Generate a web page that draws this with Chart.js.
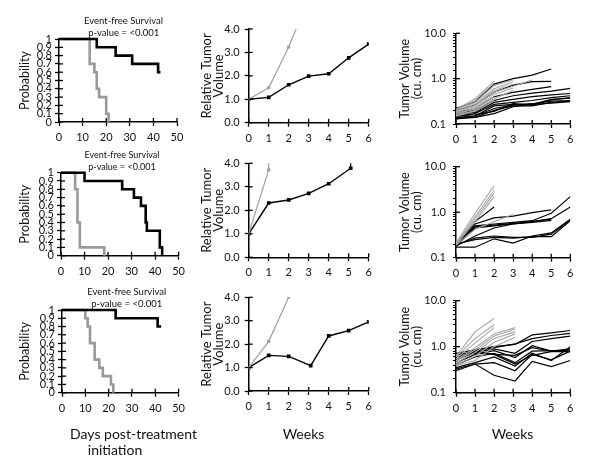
<!DOCTYPE html>
<html><head><meta charset="utf-8">
<script src="https://cdn.jsdelivr.net/npm/chart.js@4/dist/chart.umd.min.js"></script>
<style>
html,body{margin:0;padding:0;background:#fff;width:600px;height:471px;overflow:hidden;position:relative;font-family:Lato,"Open Sans",sans-serif;}
canvas{position:absolute;}
.t{position:absolute;white-space:nowrap;transform:translate(-50%,-50%);color:#111;line-height:1;}
</style></head><body>
<div id="wrap"></div>
<div class="t" style="left:123.5px;top:21px;font-size:9.5px">Event-free Survival</div>
<div class="t" style="left:123.7px;top:33px;font-size:9.5px">p-value = &lt;0.001</div>
<div class="t" style="left:122px;top:154px;font-size:9px">Event-free Survival</div>
<div class="t" style="left:122px;top:166px;font-size:9px">p-value = &lt;0.001</div>
<div class="t" style="left:126.8px;top:292px;font-size:9.5px">Event-free Survival</div>
<div class="t" style="left:126.7px;top:304px;font-size:9.5px">p-value = &lt;0.001</div>
<div class="t" style="left:133.5px;top:434px;font-size:14px">Days post-treatment</div>
<div class="t" style="left:115px;top:450px;font-size:14px">initiation</div>
<div class="t" style="left:303.5px;top:434px;font-size:14px">Weeks</div>
<div class="t" style="left:512.5px;top:434px;font-size:14px">Weeks</div>
<script>
// ---------- DATA ----------
// Kaplan-Meier (days, probability)
const km1TreatT = [0, 16, 24, 31, 42, 43];
const km1TreatS = [1, 0.9, 0.8, 0.7, 0.6, 0.6];
const km1CtrlT  = [0, 13, 15, 16, 17, 20, 21];
const km1CtrlS  = [1, 0.7, 0.6, 0.4, 0.3, 0.1, 0];

const km2TreatT = [0, 10, 26, 31, 34, 36, 36.5, 42, 43];
const km2TreatS = [1, 0.9, 0.8, 0.7, 0.6, 0.4, 0.3, 0.1, 0];
const km2CtrlT  = [0, 6, 7, 8, 18.4];
const km2CtrlS  = [1, 0.8, 0.4, 0.1, 0];

const km3TreatT = [0, 23, 41, 42.5];
const km3TreatS = [1, 0.9, 0.8, 0.8];
const km3CtrlT  = [0, 10, 11, 12, 14, 16, 17.5, 21, 22];
const km3CtrlS  = [1, 0.9, 0.8, 0.6, 0.4, 0.3, 0.2, 0.1, 0];

// Relative tumor volume (weeks, value)
const rtv1TreatW = [0, 1, 2, 3, 4, 5, 6];
const rtv1Treat  = [1.0, 1.08, 1.62, 1.99, 2.09, 2.77, 3.36];
const rtv1CtrlW  = [0, 1, 2, 3];
const rtv1Ctrl   = [1.0, 1.49, 3.23, 5.3];

const rtv2TreatW = [0, 1, 2, 3, 4, 5.1];
const rtv2Treat  = [1.0, 2.31, 2.44, 2.72, 3.13, 3.79];
const rtv2CtrlW  = [0, 1];
const rtv2Ctrl   = [1.0, 3.72];
const rtv2ErrW   = [1, 5.1];
const rtv2ErrLo  = [3.72, 3.79];
const rtv2ErrHi  = [4.1, 4.05];

const rtv3TreatW = [0, 1, 2, 3.1, 4, 5, 6];
const rtv3Treat  = [1.0, 1.52, 1.48, 1.08, 2.35, 2.58, 2.95];
const rtv3CtrlW  = [0, 1, 2];
const rtv3Ctrl   = [1.0, 2.12, 4.0];

// Individual tumor volumes (cu. cm), week index 0..6
const weeksA = [0, 1, 2, 3, 4, 5, 6];
const weeksC = [0, 1, 2, 3.1, 4, 5, 6];
const tv1Black = [
  [0.22, 0.31, 0.76, 1.0, 1.2, 1.63],
  [0.20, 0.26, 0.50, 0.72, 0.86, 0.87],
  [0.18, 0.22, 0.40, 0.50, 0.58, 0.67],
  [0.17, 0.20, 0.33, 0.42, 0.48, 0.53, 0.61],
  [0.16, 0.18, 0.30, 0.35, 0.40, 0.44, 0.47],
  [0.15, 0.17, 0.27, 0.30, 0.33, 0.38, 0.42],
  [0.14, 0.15, 0.25, 0.27, 0.27, 0.35, 0.37],
  [0.13, 0.15, 0.22, 0.26, 0.28, 0.32, 0.33],
  [0.14, 0.14, 0.20, 0.25, 0.25, 0.30, 0.32],
  [0.15, 0.16, 0.19, 0.28, 0.26, 0.34, 0.38],
  [0.13, 0.14, 0.17, 0.24, 0.27, 0.29, 0.31]
];
const tv1Gray = [
  [0.21, 0.36, 0.88],
  [0.20, 0.33, 0.80],
  [0.19, 0.30, 0.70, 0.95],
  [0.18, 0.28, 0.60, 0.85],
  [0.18, 0.26, 0.55, 0.75],
  [0.17, 0.25, 0.50, 0.68, 0.93],
  [0.16, 0.23, 0.45, 0.62],
  [0.16, 0.22, 0.40],
  [0.15, 0.20, 0.36, 0.55],
  [0.15, 0.19, 0.33]
];
const tv2Black = [
  [0.20, 0.55, 0.75, 0.82, 0.98, 1.12],
  [0.19, 0.62, 1.30],
  [0.20, 0.50, 0.55, 0.60, 0.65, 0.95, 2.2],
  [0.19, 0.48, 0.52, 0.57, 0.62, 0.72, 1.3],
  [0.18, 0.45, 0.50, 0.55, 0.60, 0.66],
  [0.18, 0.30, 0.45, 0.55, 0.62, 0.70],
  [0.19, 0.27, 0.30, 0.28, 0.28, 0.33, 0.68],
  [0.17, 0.17, 0.26, 0.21, 0.30, 0.35, 0.70],
  [0.20, 0.25, 0.28, 0.27, 0.29, 0.29, 0.65]
];
const tv2Gray = [
  [0.21, 0.95, 3.8],
  [0.20, 0.80, 3.0],
  [0.20, 0.70, 2.6],
  [0.19, 0.62, 2.2],
  [0.19, 0.42, 0.62, 0.9]
];
const tv3Black = [
  [0.72, 0.85, 1.00, 1.12, 1.80, 2.00, 2.25],
  [0.65, 0.80, 0.95, 1.15, 1.50, 1.75, 1.95],
  [0.52, 0.75, 0.90, 0.72, 1.30, 1.50, 1.70],
  [0.45, 0.68, 0.82, 0.58, 1.05, 0.80, 0.85],
  [0.40, 0.60, 0.72, 0.45, 0.80, 0.82, 0.80],
  [0.35, 0.45, 0.60, 0.38, 0.72, 0.50, 1.00],
  [0.30, 0.42, 0.45, 0.30, 0.68, 0.52, 0.80],
  [0.33, 0.42, 0.24, 0.18, 0.48, 0.37, 0.50],
  [0.70, 0.72, 0.68, 0.65, 0.95, 0.80, 0.90],
  [0.58, 0.78, 0.68, 0.42, 0.65, 0.78, 0.78]
];
const tv3Gray = [
  [0.62, 2.1, 4.1],
  [0.60, 1.5, 3.0],
  [0.55, 1.2, 2.6],
  [0.50, 0.95, 1.9, 2.6],
  [0.48, 0.85, 1.7, 2.4],
  [0.45, 0.75, 1.5, 2.1],
  [0.40, 0.62, 1.25, 1.9],
  [0.38, 0.50, 1.0, 1.6]
];

// ---------- HELPERS ----------
const FONT = 'Lato, "Open Sans", sans-serif';
const pts = (xs, ys) => ys.map((y, i) => ({x: xs[i], y: y}));

const crossTicks = {
  id: 'crossTicks',
  afterDatasetsDraw(chart, args, opts) {
    const ctx = chart.ctx, a = chart.chartArea;
    ctx.save();
    ctx.strokeStyle = '#000';
    ctx.lineWidth = 1.3;
    ['x', 'y'].forEach(k => {
      const s = chart.scales[k];
      const len = opts[k] || 0;
      if (!s || !len) return;
      s.ticks.forEach((t, i) => {
        if (k === 'y' && opts.logMajorOnly) {
          const l = Math.log10(t.value);
          if (Math.abs(l - Math.round(l)) > 1e-6) return;
        }
        const p = s.getPixelForTick(i);
        ctx.beginPath();
        if (k === 'x') { ctx.moveTo(p, a.bottom); ctx.lineTo(p, a.bottom - len); }
        else { ctx.moveTo(a.left, p); ctx.lineTo(a.left + len, p); }
        ctx.stroke();
      });
    });
    ctx.restore();
  }
};

function axisBase(extra) {
  return Object.assign({
    grid: {drawOnChartArea: false, color: '#000', tickLength: 4, tickWidth: 1.3},
    border: {color: '#000', width: 1.5}
  }, extra);
}

function panel(box, area, datasets, xScale, yScale, ctOpts) {
  const c = document.createElement('canvas');
  c.width = box[2]; c.height = box[3];
  c.style.left = box[0] + 'px'; c.style.top = box[1] + 'px';
  c.style.width = box[2] + 'px'; c.style.height = box[3] + 'px';
  document.getElementById('wrap').appendChild(c);
  const yw = area[0] - box[0];
  const xh = box[1] + box[3] - area[3];
  xScale.afterFit = s => { s.height = xh; };
  yScale.afterFit = s => { s.width = yw; };
  new Chart(c, {
    type: 'line',
    data: {datasets: datasets},
    options: {
      responsive: false, animation: false, devicePixelRatio: 1,
      layout: {padding: {left: 0, bottom: 0, top: area[1] - box[1], right: box[0] + box[2] - area[2]}},
      plugins: {legend: {display: false}, tooltip: {enabled: false}, crossTicks: ctOpts},
      events: [],
      scales: {x: xScale, y: yScale}
    },
    plugins: [crossTicks]
  });
}

const tickFont = {family: FONT, size: 11};
const kmStyle = (color) => ({borderColor: color, borderWidth: 2.6, stepped: 'before', pointRadius: 0, clip: 5, fill: false});

function kmPanel(box, area, tT, tS, cT, cS) {
  panel(box, area, [
    Object.assign({data: pts(tT, tS)}, kmStyle('#000')),
    Object.assign({data: pts(cT, cS)}, kmStyle('#999'))
  ],
  axisBase({type: 'linear', min: 0, max: 50,
    ticks: {stepSize: 10, font: tickFont, color: '#111', padding: 5, maxRotation: 0}}),
  axisBase({type: 'linear', min: 0, max: 1,
    ticks: {stepSize: 0.1, autoSkip: false, font: {family: FONT, size: 11, lineHeight: 1}, color: '#111', padding: 3,
      callback: v => String(Math.round(v * 10) / 10)},
    title: {display: true, text: 'Probability', color: '#111', font: {family: FONT, size: 12.5, lineHeight: 1.2}, padding: {top: 17, bottom: 0}}}),
  {x: 4, y: 4});
}

function rtvPanel(box, area, tW, tV, cW, cV, errW, errLo, errHi) {
  const ds = [
    {data: pts(cW, cV), borderColor: '#a0a0a0', borderWidth: 1.2, pointStyle: 'rect', pointRadius: 2.2,
      pointBackgroundColor: '#a0a0a0', pointBorderWidth: 0},
    {data: pts(tW, tV), borderColor: '#000', borderWidth: 1.4, pointStyle: 'rect', pointRadius: 2.6,
      pointBackgroundColor: '#000', pointBorderWidth: 0}
  ];
  if (errW) {
    errW.forEach((w, i) => ds.push({data: [{x: w, y: errLo[i]}, {x: w, y: errHi[i]}],
      borderColor: i === 0 ? '#a0a0a0' : '#000', borderWidth: 1.2, pointRadius: 0}));
  }
  panel(box, area, ds,
    axisBase({type: 'linear', min: 0, max: 6,
      ticks: {stepSize: 1, font: tickFont, color: '#111', padding: 5, maxRotation: 0}}),
    axisBase({type: 'linear', min: 0, max: 4,
      ticks: {stepSize: 1, font: tickFont, color: '#111', padding: 5, callback: v => v.toFixed(1)},
      title: {display: true, text: ['Relative Tumor', 'Volume'], color: '#111',
        font: {family: FONT, size: 13, lineHeight: 0.9}, padding: {top: 11, bottom: 0}}}),
    {x: 4, y: 4});
}

function tvPanel(box, area, weeks, blacks, grays) {
  const ds = [];
  grays.forEach(g => ds.push({data: pts(weeks, g), borderColor: '#a8a8a8', borderWidth: 1.1, pointRadius: 0}));
  blacks.forEach(b => ds.push({data: pts(weeks, b), borderColor: '#000', borderWidth: 1.2, pointRadius: 0}));
  panel(box, area, ds,
    axisBase({type: 'linear', min: 0, max: 6,
      ticks: {stepSize: 1, font: tickFont, color: '#111', padding: 5, maxRotation: 0}}),
    axisBase({type: 'logarithmic', min: 0.1, max: 10,
      grid: {drawOnChartArea: false, color: '#000', tickLength: 3, tickWidth: 1},
      ticks: {autoSkip: false, font: tickFont, color: '#111', padding: 7,
        callback: v => { const l = Math.log10(v); return Math.abs(l - Math.round(l)) < 1e-6 ? v.toFixed(1) : ''; }},
      title: {display: true, text: ['Tumor Volume', '(cu. cm)'], color: '#111',
        font: {family: FONT, size: 12.5, lineHeight: 0.95}, padding: {top: 19, bottom: 0}}}),
    {x: 4, y: 4, logMajorOnly: true});
}

// ---------- BUILD ----------
kmPanel([0, 0, 190, 150], [59, 39, 177, 122], km1TreatT, km1TreatS, km1CtrlT, km1CtrlS);
kmPanel([0, 140, 190, 150], [61, 172.7, 179, 255.7], km2TreatT, km2TreatS, km2CtrlT, km2CtrlS);
kmPanel([0, 280, 190, 150], [62, 310, 180, 392.7], km3TreatT, km3TreatS, km3CtrlT, km3CtrlS);

rtvPanel([190, 0, 190, 150], [248.7, 29, 368.7, 122.7], rtv1TreatW, rtv1Treat, rtv1CtrlW, rtv1Ctrl);
rtvPanel([190, 140, 190, 150], [248.7, 163.3, 368.7, 257.3], rtv2TreatW, rtv2Treat, rtv2CtrlW, rtv2Ctrl, rtv2ErrW, rtv2ErrLo, rtv2ErrHi);
rtvPanel([190, 280, 190, 150], [248.7, 297.3, 368.7, 391], rtv3TreatW, rtv3Treat, rtv3CtrlW, rtv3Ctrl);

tvPanel([380, 0, 220, 150], [456, 33.3, 570.3, 124], weeksA, tv1Black, tv1Gray);
tvPanel([380, 140, 220, 150], [456, 166.7, 570.3, 257.7], weeksA, tv2Black, tv2Gray);
tvPanel([380, 280, 220, 150], [456, 300.7, 570.3, 392.7], weeksC, tv3Black, tv3Gray);
</script></body></html>
